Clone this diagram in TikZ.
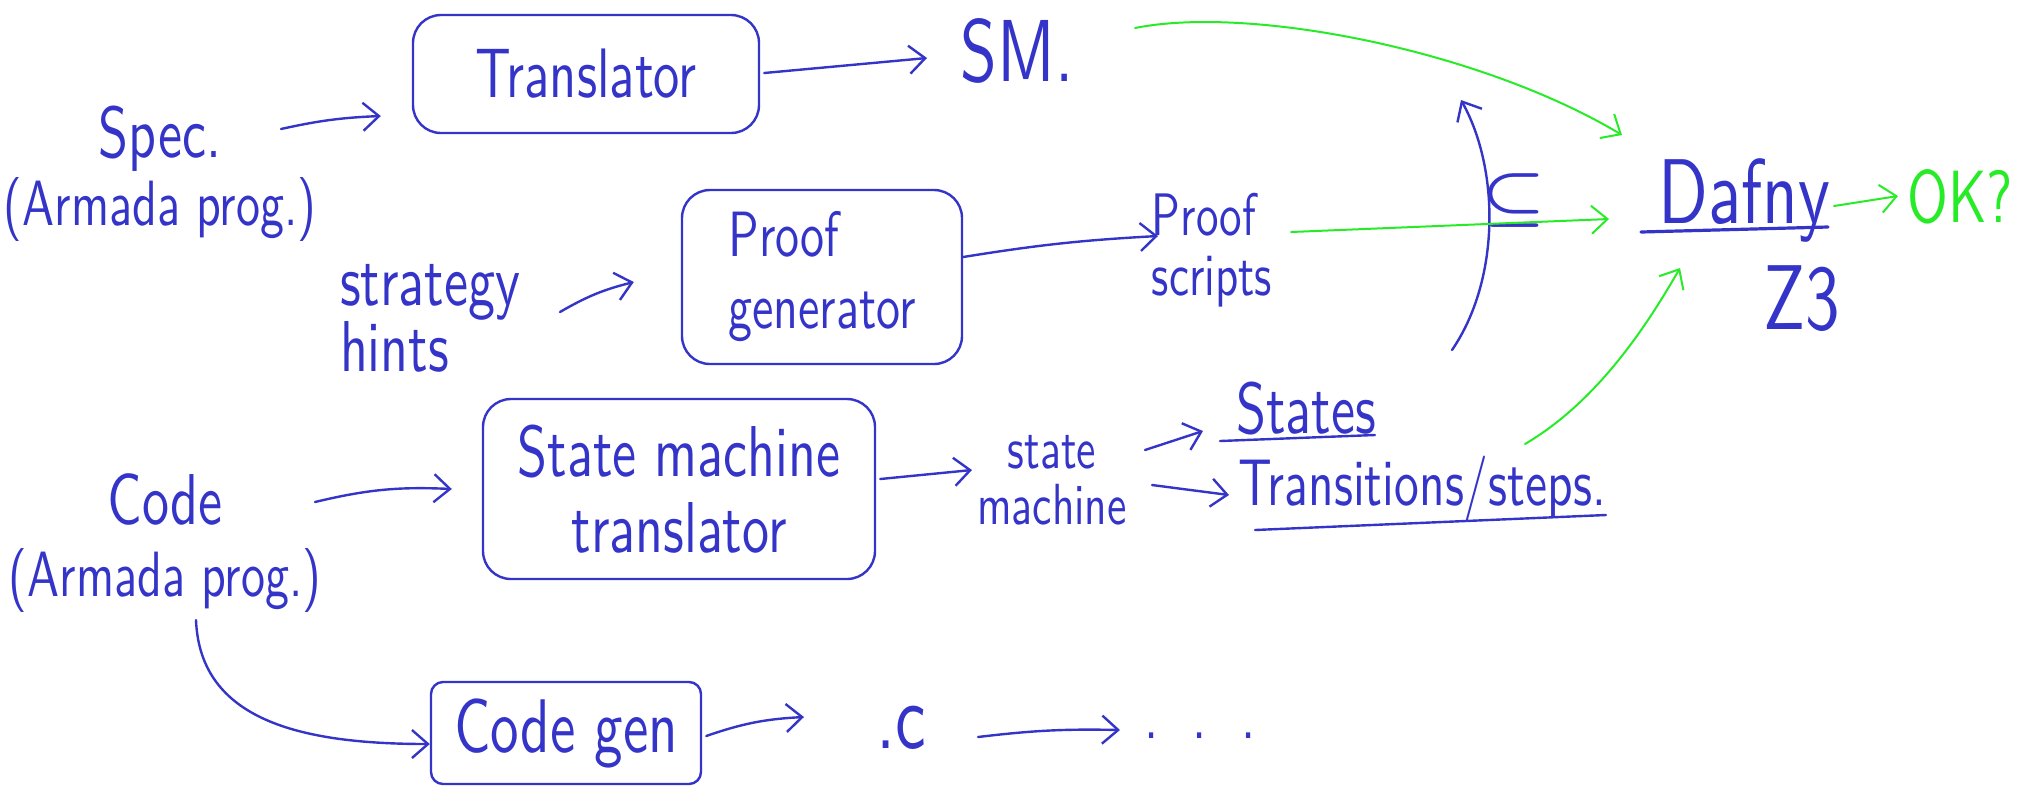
\documentclass[tikz,border=0pt]{standalone}
\usepackage{amsmath}
\usepackage{fontspec}
\usetikzlibrary{arrows.meta}
\newfontfamily\handf{lmsans10-regular}[Extension=.otf, FakeStretch=0.75]
\definecolor{inkblue}{RGB}{52,52,200}
\definecolor{inkgreen}{RGB}{40,235,40}
\newcommand\hs[2]{\fontsize{#1}{#2}\selectfont\handf}
\begin{document}
\begin{tikzpicture}[x=0.5pt,y=-0.5pt,
  ink/.style={draw=inkblue, line width=1.2pt, line cap=round, line join=round},
  gink/.style={draw=inkgreen, line width=1pt, line cap=round, line join=round},
  arr/.style={-{Straight Barb[length=8pt,width=14pt]}},
  box/.style={ink, rounded corners=14pt, inner sep=2pt, text=inkblue},
  txt/.style={text=inkblue, inner sep=1pt},
  gtxt/.style={text=inkgreen, inner sep=1pt}]
\useasboundingbox (0,0) rectangle (2018,800);

% boxes
\node[box, minimum width=173pt, minimum height=59pt, font=\hs{35}{36}] (trans) at (586,74) {Translator};
\node[box, minimum width=140pt, minimum height=87pt, align=left, font=\hs{32}{36}] (proof) at (822,277) {Proof\\generator};
\node[box, minimum width=196pt, minimum height=90pt, align=center, font=\hs{36}{38}] (smt) at (679,489) {State machine\\translator};
\node[box, minimum width=135pt, minimum height=51pt, rounded corners=6pt, font=\hs{38}{38}] (cgen) at (566,733) {Code gen};

% texts
\node[txt, align=center, font=\hs{32}{34}] (spec) at (160,174) {{\hs{36}{34}Spec.}\\(Armada prog.)};
\node[txt, align=center, font=\hs{32}{36}] (code) at (165,543) {{\hs{36}{36}Code}\\(Armada prog.)};
\node[txt, align=left, font=\hs{36}{33}] (strat) at (430,318) {strategy\\hints};
\node[txt, font=\hs{44}{44}] (sm) at (1017,51) {SM.};
\node[txt, align=left, font=\hs{30}{30}] (scripts) at (1212,250) {Proof\\scripts};
\node[txt, align=center, font=\hs{29}{28}] (smlab) at (1052,480) {state\\machine};
\node[txt, font=\hs{36}{36}] (states) at (1306,409) {States};
\node[txt, font=\hs{33}{33}] (transit) at (1422,489) {Transitions/steps.};
\node[txt, font=\hs{46}{46}] (dafny) at (1744,200) {Dafny};
\node[txt, font=\hs{46}{46}] (z3) at (1802,299) {Z3};
\node[gtxt, font=\hs{37}{37}] (ok) at (1960,197) {OK?};
\node[txt, font=\hs{46}{46}] (dotc) at (901,728) {.c};
\node[txt, font=\hs{34}{34}] (dots) at (1200,736) {.\ \ .\ \ .};
\node[txt] (refine) at (1514,200) {\scalebox{3.6}[3.0]{$\boldsymbol{\subseteq}$}};

% blue connectors
\draw[ink, arr] ([shift={(121,-45)}]spec.center) to[bend left=5] ([shift={(-31,42)}]trans.west);
\draw[ink, arr] ([shift={(4,-1)}]trans.east) -- ([shift={(-90,7)}]sm.center);
\draw[ink, arr] ([shift={(130,-6)}]strat.center) to[bend left=8] ([shift={(-47,5)}]proof.west);
\draw[ink, arr] ([shift={(0,-20)}]proof.east) to[bend left=3] ([shift={(-54,-14)}]scripts.center);
\draw[ink, arr] ([shift={(150,-41)}]code.center) to[bend left=8] ([shift={(-30,0)}]smt.west);
\draw[ink, arr] ([shift={(4,-10)}]smt.east) -- ([shift={(-80,-10)}]smlab.center);
\draw[ink, arr] ([shift={(93,-30)}]smlab.center) -- ([shift={(-103,22)}]states.center);
\draw[ink, arr] ([shift={(100,5)}]smlab.center) -- ([shift={(-193,6)}]transit.center);
\draw[ink, arr] ([shift={(31,77)}]code.center) .. controls (200,720) and (300,744) .. ([shift={(0,11)}]cgen.west);
\draw[ink, arr] ([shift={(4,3)}]cgen.east) to[bend left=8] ([shift={(-97,-11)}]dotc.center);
\draw[ink, arr] ([shift={(77,9)}]dotc.center) to[bend left=4] ([shift={(-80,-6)}]dots.center);

% underlines
\draw[ink] ([shift={(-86,32)}]states.center) -- ([shift={(69,26)}]states.center);
\draw[ink] ([shift={(-167,41)}]transit.center) -- ([shift={(184,26)}]transit.center);
\draw[ink, line width=1.6pt] ([shift={(-103,32)}]dafny.center) -- ([shift={(84,27)}]dafny.center);

% refinement arrow
\coordinate (vb) at (1452,350);
\coordinate (vt) at (1461,100);
\draw[ink, arr] (vb) .. controls (1500,280) and (1500,170) .. (vt);

% green connectors
\draw[gink, arr] ([shift={(118,-23)}]sm.center) .. controls (1250,5) and (1480,50) .. ([shift={(-122,-65)}]dafny.center);
\draw[gink, arr] ([shift={(79,-18)}]scripts.center) -- ([shift={(-135,19)}]dafny.center);
\draw[gink, arr] ([shift={(103,-45)}]transit.center) .. controls (1600,400) and (1650,320) .. ([shift={(-64,68)}]dafny.center);
\draw[gink, arr] ([shift={(90,6)}]dafny.center) -- ([shift={(-62,-1)}]ok.center);
\end{tikzpicture}
\end{document}
